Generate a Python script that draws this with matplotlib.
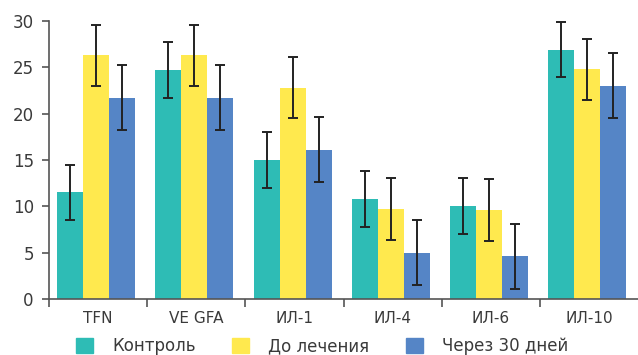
import matplotlib.pyplot as plt
import numpy as np
from matplotlib.patches import Patch

categories = ['TFN', 'VE GFA', 'ИЛ-1', 'ИЛ-4', 'ИЛ-6', 'ИЛ-10']
series_names = ['Контроль', 'До лечения', 'Через 30 дней']
control = [11.5, 24.7, 15.0, 10.8, 10.0, 26.9]
before = [26.3, 26.3, 22.8, 9.7, 9.6, 24.8]
after30 = [21.7, 21.7, 16.1, 5.0, 4.6, 23.0]
control_err = [3.0, 3.0, 3.0, 3.0, 3.0, 3.0]
before_err = [3.3, 3.3, 3.3, 3.3, 3.3, 3.3]
after30_err = [3.5, 3.5, 3.5, 3.5, 3.5, 3.5]

colors = ['#2EBCB5', '#FFE94E', '#5585C6']
txt = '#3a3a3a'

plt.rcParams['font.family'] = ['DejaVu Sans']

fig = plt.figure(figsize=(6.38, 3.55), dpi=100)
ax = fig.add_axes([0.077, 0.158, 0.923, 0.783])

x = np.arange(len(categories))
w = 0.265
shift = -0.02
for i, (vals, errs) in enumerate([(control, control_err), (before, before_err), (after30, after30_err)]):
    ax.bar(x + shift + (i - 1) * w, vals, w, color=colors[i], zorder=2)
    ax.errorbar(x + shift + (i - 1) * w, vals, yerr=errs, fmt='none', ecolor='#222222',
                elinewidth=1.4, capsize=3.6, capthick=1.4, zorder=3)

ax.set_xlim(-0.5, len(categories) - 0.5)
ax.set_ylim(0, 30)
ax.set_yticks([0, 5, 10, 15, 20, 25, 30])
ax.set_xticks(x)
ax.set_xticklabels(categories)
ax.set_xticks(np.arange(len(categories)) - 0.5, minor=True)
ax.tick_params(axis='x', which='major', length=0, pad=9, labelsize=11, colors=txt)
ax.tick_params(axis='x', which='minor', length=6, width=1.2, color='#555555')
ax.tick_params(axis='y', length=5, width=1.2, color='#555555', labelsize=12, labelcolor=txt, pad=6)

for s in ['top', 'right']:
    ax.spines[s].set_visible(False)
for s in ['left', 'bottom']:
    ax.spines[s].set_color('#555555')
    ax.spines[s].set_linewidth(1.2)

handles = [Patch(color=c) for c in colors]
fig.legend(handles, series_names, loc='lower center', bbox_to_anchor=(0.505, -0.042), ncol=3,
           frameon=False, fontsize=12, handlelength=1.0, handleheight=1.0,
           columnspacing=2.2, handletextpad=1.15, labelcolor=txt)

fig.savefig('out.png', dpi=100)
